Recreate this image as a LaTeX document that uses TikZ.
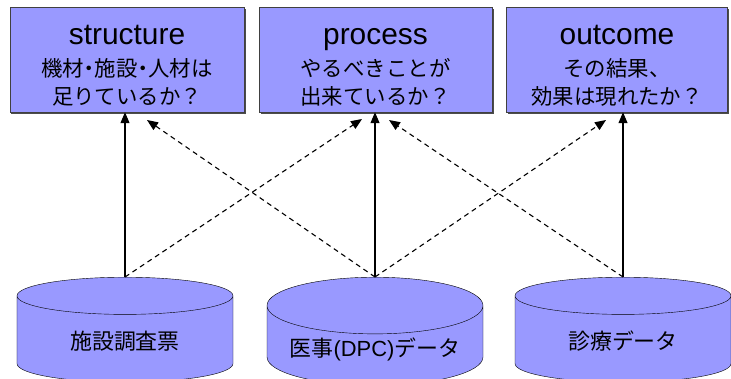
\documentclass[tikz,border=0pt]{standalone}
\usepackage{fontspec}
\setmainfont{Liberation Sans}
\newfontfamily\jpfont{Noto Sans CJK JP}
\usetikzlibrary{arrows.meta,positioning,shapes.geometric,shadows}
\definecolor{qFill}{HTML}{9999FF}
\newcommand\qtitle[1]{{\rmfamily\fontsize{30}{32}\selectfont\rule{0pt}{32bp}#1}}
\newcommand\qdot{\makebox[0.5em]{・}}

\begin{document}
\begin{tikzpicture}[
  x=1bp, y=-1bp, >={Triangle[length=11bp,width=9bp]},
  qbox/.style={draw=black!75,fill=qFill,minimum height=105bp,align=center,
    font=\jpfont\fontsize{21.5}{28}\selectfont,
    drop shadow={shadow xshift=1.5bp,shadow yshift=-1.5bp,fill=black!70,opacity=1}},
  dbase/.style={cylinder,shape border rotate=90,aspect=0.32,draw=black,fill=qFill,
    minimum width=216bp,minimum height=105bp,anchor=north,
    font=\jpfont\fontsize{22}{26}\selectfont},
  link/.style={->,line width=1.1bp},
  cross/.style={->,line width=1.1bp,dash pattern=on 5bp off 4bp}]
  \useasboundingbox (0,0) rectangle (731,378);
  % quality boxes
  \node[qbox,minimum width=234bp] (struct) at (127,59.5) {\qtitle{structure}\\[4bp]機材\qdot 施設\qdot 人材は\\足りているか？};
  \node[qbox,minimum width=233bp] (proc) at (375.5,59.5) {\qtitle{process}\\[4bp]やるべきことが\\出来ているか？};
  \node[qbox,minimum width=221bp] (outc) at (617,59.5) {\qtitle{outcome}\\[4bp]その結果、\\効果は現れたか？};
  % data sources
  \node[dbase] (survey) at (125,277) {施設調査票};
  \node[dbase] (dpc) at (375,277) {医事{\rmfamily(DPC)}データ};
  \node[dbase] (claim) at (623,277) {診療データ};
  % ends of the crossing arrows
  \coordinate (tS) at (147,120);
  \coordinate (tPl) at (362,119);
  \coordinate (tPr) at (389,120);
  \coordinate (tO) at (606,120);
  \draw[link] (survey.north) -- (survey.north |- struct.south);
  \draw[link] (dpc.north) -- (dpc.north |- proc.south);
  \draw[link] (claim.north) -- (claim.north |- outc.south);
  \draw[cross] (survey.north) -- (tPl);
  \draw[cross] (dpc.north) -- (tS);
  \draw[cross] (dpc.north) -- (tO);
  \draw[cross] (claim.north) -- (tPr);
\end{tikzpicture}
\end{document}
